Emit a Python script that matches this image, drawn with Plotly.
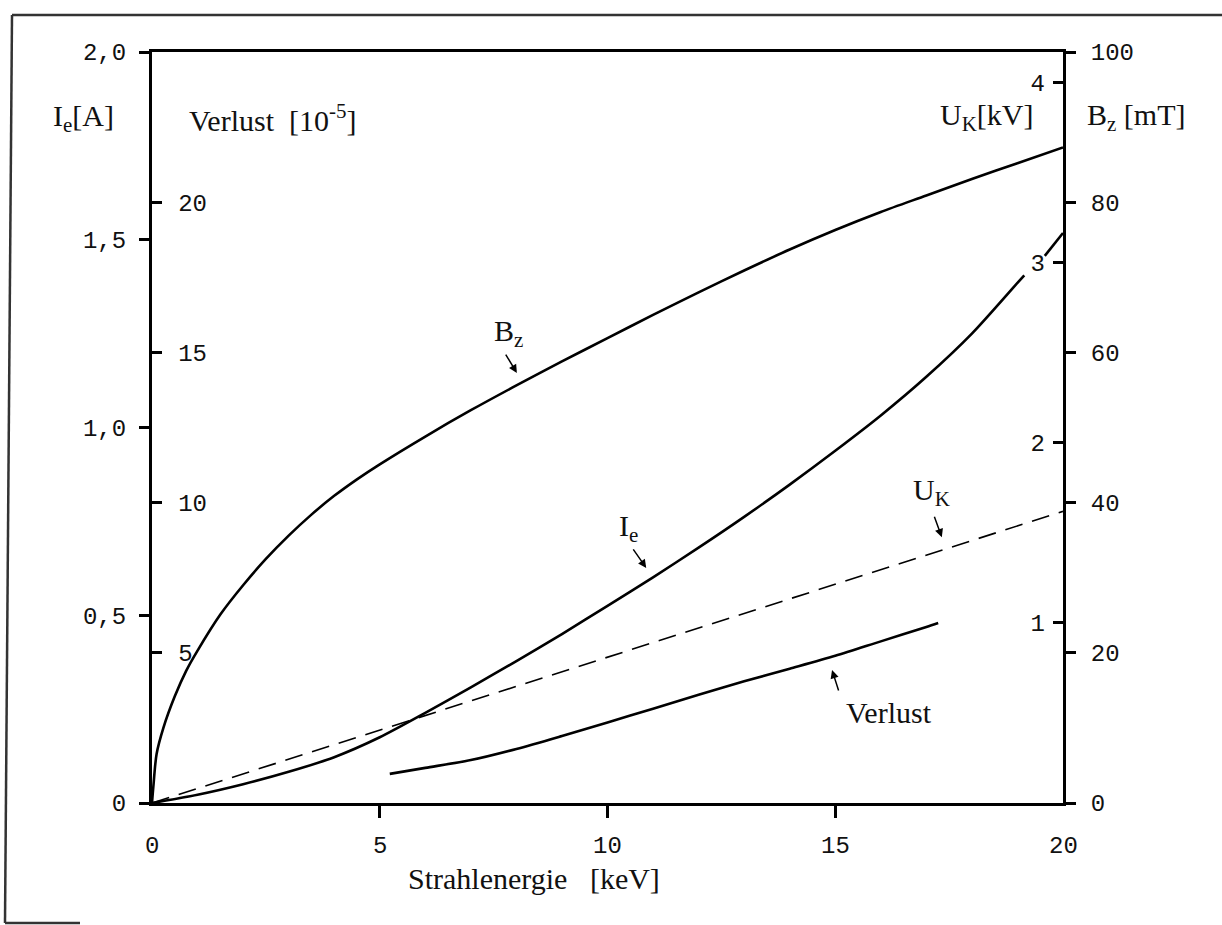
import plotly.graph_objects as go

# ---- data ----
energy_bz = [0, 0.03, 0.1, 0.25, 0.5, 0.75, 1.0, 1.5, 2.0, 2.5, 3.0, 3.5, 4.0, 4.5, 5.0,
             6.0, 7.0, 8.0, 9.0, 10.0, 11.0, 12.0, 13.0, 14.0, 15.0, 16.0, 17.0, 18.0, 19.0, 20.0]
bz_mT = [0, 2.2, 6.5, 10.0, 14.2, 17.6, 20.3, 25.1, 29.0, 32.5, 35.6, 38.4, 40.9, 43.1, 45.1,
         48.8, 52.3, 55.6, 58.8, 61.9, 65.0, 68.0, 70.9, 73.7, 76.3, 78.7, 80.9, 83.1, 85.2, 87.3]

energy_ie = [0, 1, 2, 3, 4, 5, 6, 7, 8, 9, 10, 11, 12, 13, 14, 15, 16, 17, 18, 19, 19.15,
             None, 19.6, 20.0]
ie_A = [0, 0.022, 0.05, 0.083, 0.122, 0.175, 0.24, 0.308, 0.378, 0.45, 0.525, 0.601, 0.68,
        0.762, 0.848, 0.938, 1.032, 1.135, 1.25, 1.385, 1.405, None, 1.457, 1.518]

energy_uk = [0, 20.0]
uk_kV = [0, 1.62]

energy_verl = [5.22, 6, 7, 8, 9, 10, 11, 12, 13, 14, 15, 16, 17, 17.26]
verlust = [0.97, 1.17, 1.43, 1.8, 2.23, 2.68, 3.14, 3.6, 4.05, 4.47, 4.9, 5.38, 5.86, 5.99]

x_ticks = [0, 5, 10, 15, 20]
x_ticktext = ["0", "5", "10", "15", "20"]
ie_ticks = [0, 0.5, 1.0, 1.5, 2.0]
ie_ticktext = ["0", "0,5", "1,0", "1,5", "2,0"]
verl_ticks = [5, 10, 15, 20]
uk_ticks = [1, 2, 3, 4]
bz_ticks = [0, 20, 40, 60, 80, 100]

# ---- layout geometry (pixels) ----
W, H = 1222, 925
L, R, T, B = 152, 1063, 52, 803


def px(xp):
    return (xp - L) / (R - L)


def py(yp):
    return (B - yp) / (B - T)


MONO = "Liberation Mono"
SERIF = "Liberation Serif"
mono_font = dict(family=MONO, size=24, color="#111")
serif = dict(family=SERIF, size=30, color="#111")

fig = go.Figure()
spl = dict(color="black", width=2.6, shape="spline", smoothing=0.8)
fig.add_trace(go.Scatter(x=energy_bz, y=bz_mT, yaxis="y4", mode="lines", line=spl,
                         showlegend=False))
fig.add_trace(go.Scatter(x=energy_ie, y=ie_A, yaxis="y", mode="lines", line=spl,
                         showlegend=False, connectgaps=False))
fig.add_trace(go.Scatter(x=energy_uk, y=uk_kV, yaxis="y3", mode="lines",
                         line=dict(color="black", width=1.6, dash="18px,10px"),
                         showlegend=False))
fig.add_trace(go.Scatter(x=energy_verl, y=verlust, yaxis="y2", mode="lines", line=spl,
                         showlegend=False))

common_axis = dict(showgrid=False, zeroline=False, tickcolor="black", linecolor="black",
                   tickfont=mono_font)

fig.update_layout(
    width=W, height=H,
    margin=dict(l=L, r=W - R, t=T, b=H - B),
    paper_bgcolor="white", plot_bgcolor="white",
    xaxis=dict(range=[0, 20], tickvals=x_ticks, ticks="outside", ticklen=12, tickwidth=3,
               showline=True, linewidth=2.5, mirror=True, showticklabels=False,
               showgrid=False, zeroline=False, tickcolor="black", linecolor="black"),
    yaxis=dict(range=[0, 2.0], tickvals=ie_ticks, ticktext=ie_ticktext, ticks="outside",
               ticklen=10, tickwidth=2.5, showline=True, linewidth=3, side="left",
               ticklabelstandoff=8, **common_axis),
    yaxis2=dict(range=[0, 25], tickvals=verl_ticks, overlaying="y", side="left", anchor="x",
                ticks="inside", ticklen=10, tickwidth=2.5, ticklabelposition="inside",
                showline=False, ticklabelstandoff=18, **common_axis),
    yaxis3=dict(range=[0, 4.172], tickvals=uk_ticks, overlaying="y", side="right", anchor="x",
                ticks="inside", ticklen=10, tickwidth=2.5, ticklabelposition="inside",
                showline=True, linewidth=3, ticklabelstandoff=10, **common_axis),
    yaxis4=dict(range=[0, 100], tickvals=bz_ticks, overlaying="y", side="right", anchor="x",
                ticks="outside", ticklen=12, tickwidth=2.5, showline=False,
                ticklabelstandoff=10, **common_axis),
)

# x tick labels
for xv, xt in zip(x_ticks, x_ticktext):
    fig.add_annotation(text=xt, x=xv, y=py(846), xref="x", yref="paper", showarrow=False,
                       font=mono_font, xanchor="center", yanchor="middle")

titles = [
    ("I<sub>e</sub>[A]", 83, 118),
    ("Verlust  [10<sup>-5</sup>]", 272, 118),
    ("U<sub>K</sub>[kV]", 987, 117),
    ("B<sub>z</sub> [mT]", 1136, 117),
    ("Strahlenergie   [keV]", 534, 878),
]
for txt, x0, y0 in titles:
    fig.add_annotation(text=txt, x=px(x0), y=py(y0), xref="paper", yref="paper",
                       showarrow=False, font=serif, xanchor="center", yanchor="middle")

# curve labels with arrows (head in data coords on x / y, tail offset in px)
labels = [
    ("B<sub>z</sub>", 7.82, 1.252, 8.01, 1.145, -12, -20),
    ("I<sub>e</sub>", 10.45, 0.732, 10.85, 0.626, -14, -20),
    ("U<sub>K</sub>", 17.12, 0.828, 17.34, 0.708, -8, -22),
    ("Verlust", 16.18, 0.24, 14.93, 0.354, 7, 22),
]
for txt, tx, ty, hx, hy, ax, ay in labels:
    fig.add_annotation(text=txt, x=tx, y=ty, xref="x", yref="y", showarrow=False,
                       font=serif, xanchor="center", yanchor="middle")
    fig.add_annotation(text="", x=hx, y=hy, xref="x", yref="y", ax=ax, ay=ay,
                       showarrow=True, arrowhead=2, arrowsize=1.1, arrowwidth=1.5,
                       arrowcolor="black")

# scanned page frame
frame = dict(color="#333", width=2.5)
fig.add_shape(type="line", xref="paper", yref="paper", x0=px(12), y0=py(15), x1=px(1222), y1=py(15), line=frame)
fig.add_shape(type="line", xref="paper", yref="paper", x0=px(12), y0=py(15), x1=px(5), y1=py(923), line=frame)
fig.add_shape(type="line", xref="paper", yref="paper", x0=px(5), y0=py(923), x1=px(80), y1=py(923), line=frame)

fig.write_html("out.html")
